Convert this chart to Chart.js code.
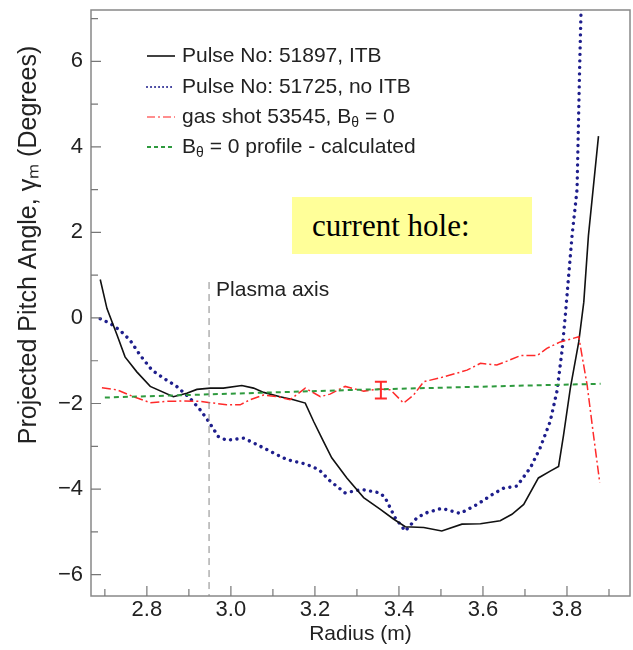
<!DOCTYPE html>
<html>
<head>
<meta charset="utf-8">
<script src="https://cdn.jsdelivr.net/npm/chart.js@4.4.0/dist/chart.umd.min.js"></script>
<style>
    body { margin: 0; background: #fff; }
    #wrap { position: relative; width: 633px; height: 650px; }
    #note {
        position: absolute; left: 292px; top: 197px; width: 240px; height: 57px;
        box-sizing: border-box; padding-left: 20px; line-height: 57px;
        background: #ffff99; color: #000;
        font-family: "Liberation Serif", "Times New Roman", serif; font-size: 31px;
    }
</style>
</head>
<body>
<div id="wrap">
    <canvas id="pitch" width="633" height="650"></canvas>
    <div id="note">current hole:</div>
</div>
<script>
// Pulse No: 51897, ITB (black)
const itbR = [2.689, 2.705, 2.729, 2.748, 2.776, 2.808, 2.863, 2.895, 2.919, 2.951, 2.982, 3.026, 3.054, 3.078, 3.117, 3.149, 3.177, 3.197, 3.220, 3.240, 3.276, 3.316, 3.355, 3.387, 3.415, 3.459, 3.502, 3.550, 3.594, 3.641, 3.669, 3.697, 3.732, 3.760, 3.780, 3.792, 3.808, 3.828, 3.840, 3.851, 3.875];
const itbAngle = [0.90, 0.22, -0.40, -0.91, -1.26, -1.60, -1.84, -1.76, -1.67, -1.64, -1.64, -1.58, -1.64, -1.74, -1.84, -1.91, -1.99, -2.42, -2.88, -3.27, -3.74, -4.20, -4.47, -4.70, -4.88, -4.90, -4.98, -4.82, -4.81, -4.74, -4.59, -4.36, -3.74, -3.58, -3.47, -2.73, -1.64, -0.56, 0.37, 1.92, 4.25];

// Pulse No: 51725, no ITB (blue dots)
const noItbR = [2.689, 2.713, 2.736, 2.760, 2.784, 2.812, 2.840, 2.871, 2.903, 2.927, 2.947, 2.970, 2.990, 3.030, 3.054, 3.094, 3.133, 3.180, 3.210, 3.236, 3.272, 3.312, 3.355, 3.367, 3.391, 3.415, 3.443, 3.467, 3.502, 3.546, 3.586, 3.625, 3.649, 3.681, 3.713, 3.736, 3.760, 3.776, 3.788, 3.796, 3.812, 3.824, 3.830, 3.834];
const noItbAngle = [-0.02, -0.13, -0.29, -0.52, -0.87, -1.22, -1.41, -1.60, -1.88, -2.15, -2.42, -2.77, -2.86, -2.81, -2.92, -3.12, -3.31, -3.42, -3.55, -3.81, -4.09, -4.01, -4.09, -4.20, -4.67, -4.98, -4.67, -4.55, -4.45, -4.57, -4.36, -4.11, -3.98, -3.93, -3.50, -3.04, -2.42, -1.72, -0.79, 0.06, 1.92, 3.01, 5.80, 7.40];

// gas shot 53545 (red dash-dot)
const gasR = [2.693, 2.729, 2.768, 2.808, 2.848, 2.887, 2.927, 2.959, 2.990, 3.022, 3.046, 3.078, 3.110, 3.141, 3.177, 3.213, 3.236, 3.272, 3.316, 3.355, 3.380, 3.411, 3.435, 3.459, 3.498, 3.538, 3.562, 3.594, 3.633, 3.657, 3.689, 3.729, 3.752, 3.784, 3.828, 3.848, 3.863, 3.878];
const gasAngle = [-1.63, -1.68, -1.84, -1.98, -1.95, -1.94, -1.95, -1.99, -2.03, -2.03, -1.91, -1.80, -1.84, -1.91, -1.64, -1.84, -1.78, -1.60, -1.71, -1.66, -1.68, -1.99, -1.80, -1.49, -1.40, -1.29, -1.22, -1.06, -1.10, -1.01, -0.88, -0.88, -0.71, -0.56, -0.44, -1.57, -2.73, -3.85];

// B_theta = 0 profile, calculated (green dashes)
const calcR = [2.70, 2.90, 3.10, 3.30, 3.50, 3.70, 3.88];
const calcAngle = [-1.86, -1.80, -1.74, -1.68, -1.63, -1.58, -1.54];

// error bar on the gas shot
const errR = [3.357];
const errLow = [-1.88];
const errHigh = [-1.49];

// plasma axis marker
const plasmaAxisR = 2.948;
const plasmaTop = 0.84;

// axis ticks
const xMajor = [2.8, 3.0, 3.2, 3.4, 3.6, 3.8];
const xMinor = [2.7, 2.9, 3.1, 3.3, 3.5, 3.7, 3.9];
const yMajor = [-6, -4, -2, 0, 2, 4, 6];
const yMinor = [-5, -3, -1, 1, 3, 5, 7];

const family = '"Liberation Sans", Arial, Helvetica, sans-serif';
const ink = "#222";

function pts(xs, ys) {
    return xs.map((x, i) => ({ x: x, y: ys[i] }));
}

const legendRows = [
    { y: 56, parts: [["Pulse No: 51897, ITB"]], color: "#111", width: 1.6, dash: [] },
    { y: 87, parts: [["Pulse No: 51725, no ITB"]], color: "#1e1e8c", width: 2, dash: [0.01, 4], cap: "round" },
    { y: 117, parts: [["gas shot 53545, B"], ["\u03b8", true], [" = 0"]], color: "#ff6a6a", width: 1.5, dash: [8, 3, 2, 3] },
    { y: 147, parts: [["B"], ["\u03b8", true], [" = 0 profile - calculated"]], color: "#2e9a3e", width: 2, dash: [4, 3] },
];

const decorations = {
    id: "decorations",
    afterDraw(chart) {
        const ctx = chart.ctx;
        const a = chart.chartArea;
        const xs = chart.scales.x;
        const ys = chart.scales.y;

        ctx.save();
        // frame
        ctx.strokeStyle = "#888";
        ctx.lineWidth = 1.5;
        ctx.strokeRect(a.left, a.top, a.right - a.left, a.bottom - a.top);

        // inward ticks
        ctx.lineWidth = 1.2;
        ctx.strokeStyle = "#777";
        ctx.beginPath();
        xMajor.concat(xMinor).forEach(v => {
            const px = xs.getPixelForValue(v);
            const len = xMajor.includes(v) ? 10 : 7;
            ctx.moveTo(px, a.bottom);
            ctx.lineTo(px, a.bottom - len);
        });
        yMajor.concat(yMinor).forEach(v => {
            const py = ys.getPixelForValue(v);
            const len = yMajor.includes(v) ? 10 : 7;
            ctx.moveTo(a.left, py);
            ctx.lineTo(a.left + len, py);
        });
        ctx.stroke();

        // error bar
        ctx.strokeStyle = "#ff2a2a";
        ctx.lineWidth = 2;
        ctx.beginPath();
        errR.forEach((r, i) => {
            const px = xs.getPixelForValue(r);
            const lo = ys.getPixelForValue(errLow[i]);
            const hi = ys.getPixelForValue(errHigh[i]);
            ctx.moveTo(px, lo); ctx.lineTo(px, hi);
            ctx.moveTo(px - 6, lo); ctx.lineTo(px + 6, lo);
            ctx.moveTo(px - 6, hi); ctx.lineTo(px + 6, hi);
        });
        ctx.stroke();

        // plasma axis label
        ctx.fillStyle = ink;
        ctx.font = "21px " + family;
        ctx.textBaseline = "middle";
        ctx.textAlign = "left";
        ctx.fillText("Plasma axis", xs.getPixelForValue(plasmaAxisR) + 7, ys.getPixelForValue(plasmaTop) + 8);

        // legend
        legendRows.forEach(row => {
            ctx.strokeStyle = row.color;
            ctx.lineWidth = row.width;
            ctx.lineCap = row.cap || "butt";
            ctx.setLineDash(row.dash);
            ctx.beginPath();
            ctx.moveTo(147, row.y);
            ctx.lineTo(175, row.y);
            ctx.stroke();
            ctx.setLineDash([]);
            let tx = 182;
            row.parts.forEach(([txt, sub]) => {
                ctx.font = (sub ? "14px " : "21px ") + family;
                ctx.fillText(txt, tx, row.y + (sub ? 6 : 0));
                tx += ctx.measureText(txt).width;
            });
        });

        // y axis title
        ctx.translate(29, 245);
        ctx.rotate(-Math.PI / 2);
        ctx.textAlign = "center";
        ctx.font = "25px " + family;
        ctx.fillText("Projected Pitch Angle, \u03b3\u2098 (Degrees)", 0, 0);
        ctx.restore();
    },
};

new Chart(document.getElementById("pitch"), {
    type: "line",
    data: {
        datasets: [
            {
                label: "Plasma axis",
                data: [{ x: plasmaAxisR, y: plasmaTop }, { x: plasmaAxisR, y: -6.5 }],
                borderColor: "#888",
                borderWidth: 1,
                borderDash: [7, 5],
            },
            {
                label: "B\u03b8 = 0 profile - calculated",
                data: pts(calcR, calcAngle),
                borderColor: "#2e9a3e",
                borderWidth: 2,
                borderDash: [5, 4],
            },
            {
                label: "gas shot 53545, B\u03b8 = 0",
                data: pts(gasR, gasAngle),
                borderColor: "#ff2a2a",
                borderWidth: 1.5,
                borderDash: [9, 3, 2, 3],
            },
            {
                label: "Pulse No: 51897, ITB",
                data: pts(itbR, itbAngle),
                borderColor: "#111",
                borderWidth: 1.6,
            },
            {
                label: "Pulse No: 51725, no ITB",
                data: pts(noItbR, noItbAngle),
                borderColor: "#1e1e8c",
                borderWidth: 3.4,
                borderDash: [0.01, 6.5],
                borderCapStyle: "round",
            },
        ],
    },
    options: {
        responsive: false,
        animation: false,
        layout: { padding: { top: 10, right: 3, left: 0, bottom: 0 } },
        elements: { point: { radius: 0 }, line: { tension: 0, fill: false } },
        plugins: { legend: { display: false }, tooltip: { enabled: false } },
        scales: {
            x: {
                type: "linear",
                min: 2.667,
                max: 3.95,
                grid: { display: false, drawTicks: false },
                border: { display: false },
                afterBuildTicks: s => { s.ticks = xMajor.map(v => ({ value: v })); },
                afterFit: s => {
                    s.height = 54;
                    s.paddingLeft = 0;
                    s.paddingRight = 0;
                },
                ticks: {
                    padding: 1,
                    color: ink,
                    font: { size: 22, family: family },
                    callback: v => v.toFixed(1),
                },
                title: {
                    display: true,
                    text: "Radius (m)",
                    color: ink,
                    font: { size: 21, family: family },
                    padding: { top: 0, bottom: 3 },
                },
            },
            y: {
                min: -6.5,
                max: 7.2,
                grid: { display: false, drawTicks: false },
                border: { display: false },
                afterBuildTicks: s => { s.ticks = yMajor.map(v => ({ value: v })); },
                afterFit: s => {
                    s.width = 91;
                    s.paddingTop = 0;
                    s.paddingBottom = 0;
                },
                ticks: {
                    padding: 8,
                    color: ink,
                    font: { size: 22, family: family },
                    callback: v => (v < 0 ? "\u2212" + Math.abs(v) : String(v)),
                },
            },
        },
    },
    plugins: [decorations],
});
</script>
</body>
</html>
